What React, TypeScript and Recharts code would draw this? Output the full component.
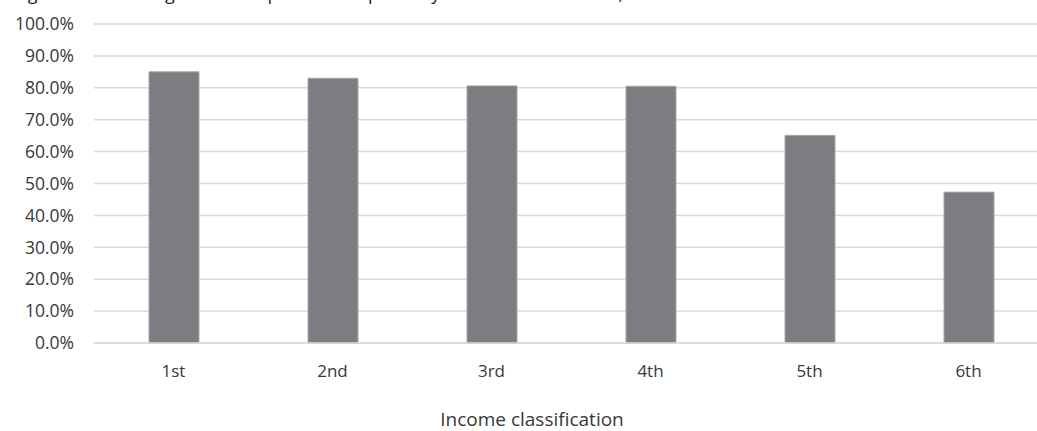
import React from 'react';
import { BarChart, Bar, XAxis, YAxis, CartesianGrid } from 'recharts';

const categories: string[] = ['1st', '2nd', '3rd', '4th', '5th', '6th'];
const values: number[] = [85.0, 83.0, 80.6, 80.5, 65.1, 47.3];
const yTicks: number[] = [0, 10, 20, 30, 40, 50, 60, 70, 80, 90, 100];
const titleText = 'Figure 4: Percentage of municipalities compliant by income classification, 2016';
const xAxisTitle = 'Income classification';

const data = categories.map((c, i) => ({ name: c, value: values[i] }));

const FONT = '"Open Sans", "Noto Sans", sans-serif';
const TEXT = '#383838';

export default function App() {
  return (
    <div
      style={{
        position: 'fixed',
        left: 0,
        top: 0,
        width: 1037,
        height: 431,
        overflow: 'hidden',
        background: '#ffffff',
      }}
    >
      <div
        style={{
          position: 'absolute',
          left: 14,
          top: -18,
          fontFamily: FONT,
          fontSize: 18,
          lineHeight: '22px',
          color: '#222',
          whiteSpace: 'nowrap',
        }}
      >
        {titleText}
      </div>
      <BarChart
        width={1048}
        height={431}
        data={data}
        margin={{ top: 24, right: 0, bottom: 0, left: 0 }}
      >
        <CartesianGrid vertical={false} stroke="#d9d9d9" strokeWidth={1.5} />
        <XAxis
          dataKey="name"
          tickLine={false}
          axisLine={{ stroke: '#d9d9d9', strokeWidth: 1.5 }}
          height={88}
          tickMargin={16}
          tick={{ fill: TEXT, fontSize: 17, fontFamily: FONT }}
          label={{
            value: xAxisTitle,
            position: 'insideBottom',
            offset: 5,
            dx: -39,
            fill: TEXT,
            fontSize: 19,
            fontFamily: FONT,
          }}
        />
        <YAxis
          width={94}
          domain={[0, 100]}
          ticks={yTicks}
          interval={0}
          tickLine={false}
          axisLine={false}
          tickSize={6}
          tickMargin={14}
          tickFormatter={(v: number) => `${v.toFixed(1)}%`}
          tick={{ fill: TEXT, fontSize: 17.5, fontFamily: FONT }}
        />
        <Bar
          dataKey="value"
          fill="#7c7d81"
          stroke="#a8a8a8"
          strokeWidth={1}
          barSize={50}
          isAnimationActive={false}
        />
      </BarChart>
    </div>
  );
}
